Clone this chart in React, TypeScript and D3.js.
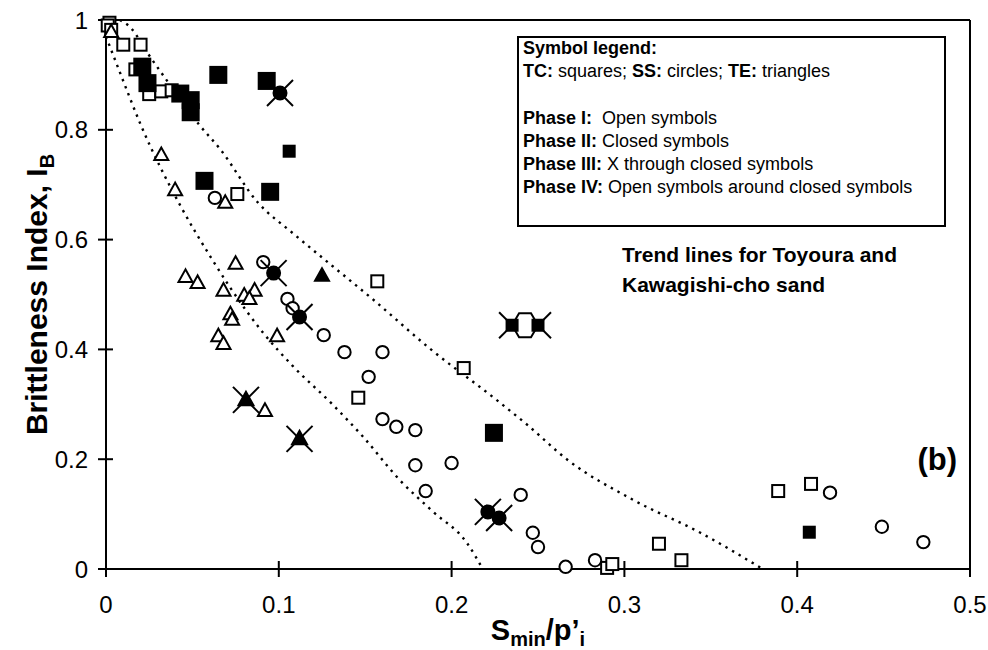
import React from "react";
import * as d3 from "d3";

// ---- data ----
const xTicks = [0, 0.1, 0.2, 0.3, 0.4, 0.5];
const xTickLabels = ["0", "0.1", "0.2", "0.3", "0.4", "0.5"];
const yTicks = [0, 0.2, 0.4, 0.6, 0.8, 1];
const yTickLabels = ["0", "0.2", "0.4", "0.6", "0.8", "1"];

// TC: squares
const tcPhase1: [number, number][] = [
  [0.002, 0.995], [0.001, 0.99], [0.003, 0.982], [0.01, 0.955], [0.02, 0.955],
  [0.017, 0.91], [0.025, 0.865], [0.032, 0.87], [0.038, 0.872], [0.076, 0.683],
  [0.157, 0.524], [0.146, 0.312], [0.207, 0.366], [0.29, 0.002], [0.293, 0.009],
  [0.32, 0.046], [0.333, 0.016], [0.389, 0.142], [0.408, 0.155],
];
const tcPhase2: [number, number][] = [
  [0.021, 0.915], [0.024, 0.885], [0.043, 0.866], [0.049, 0.854], [0.049, 0.832],
  [0.065, 0.9], [0.093, 0.889], [0.057, 0.707], [0.095, 0.687], [0.2245, 0.248],
];
const tcPhase2b: [number, number][] = [
  [0.106, 0.761], [0.407, 0.067],
];
const tcPhase4: [number, number][] = [
  [0.235, 0.444], [0.25, 0.444],
];

// SS: circles
const ssPhase1: [number, number][] = [
  [0.063, 0.676], [0.091, 0.559], [0.105, 0.492], [0.108, 0.475], [0.126, 0.426],
  [0.138, 0.395], [0.16, 0.395], [0.152, 0.35], [0.16, 0.273], [0.168, 0.259],
  [0.179, 0.253], [0.179, 0.189], [0.2, 0.193], [0.185, 0.142], [0.24, 0.135],
  [0.247, 0.066], [0.25, 0.04], [0.266, 0.004], [0.283, 0.016], [0.419, 0.139],
  [0.449, 0.077], [0.473, 0.049],
];
const ssPhase3: [number, number][] = [
  [0.1007, 0.867], [0.097, 0.539], [0.112, 0.459], [0.221, 0.104], [0.2275, 0.093],
];

// TE: triangles
const tePhase1: [number, number][] = [
  [0.003, 0.978], [0.032, 0.754], [0.04, 0.69], [0.069, 0.667], [0.075, 0.556],
  [0.046, 0.532], [0.053, 0.521], [0.068, 0.507], [0.08, 0.498], [0.086, 0.507],
  [0.083, 0.492], [0.072, 0.464], [0.073, 0.454], [0.065, 0.424], [0.068, 0.41],
  [0.099, 0.424], [0.092, 0.288],
];
const tePhase2: [number, number][] = [[0.125, 0.534]];
const tePhase3: [number, number][] = [[0.081, 0.308], [0.112, 0.237]];

// trend lines
const upperTrend: [number, number][] = [
  [0.008, 1.0], [0.014, 0.987], [0.024, 0.94], [0.037, 0.882], [0.054, 0.809],
  [0.066, 0.765], [0.088, 0.667], [0.108, 0.612], [0.131, 0.552], [0.153, 0.495],
  [0.188, 0.4], [0.226, 0.308], [0.244, 0.262], [0.267, 0.199], [0.305, 0.126],
  [0.344, 0.066], [0.38, 0.0],
];
const lowerTrend: [number, number][] = [
  [0.0, 0.97], [0.008, 0.905], [0.02, 0.81], [0.043, 0.662], [0.061, 0.566],
  [0.072, 0.512], [0.091, 0.43], [0.108, 0.37], [0.131, 0.3], [0.149, 0.24],
  [0.17, 0.162], [0.189, 0.105], [0.209, 0.047], [0.218, 0.0],
];

const FONT = "'Liberation Sans', Arial, Helvetica, sans-serif";

export default function App() {
  const W = 988, H = 650;
  const x = d3.scaleLinear().domain([0, 0.5]).range([106, 970]);
  const y = d3.scaleLinear().domain([0, 1]).range([569, 20]);
  const line = d3.line<[number, number]>()
    .x(d => x(d[0]))
    .y(d => y(d[1]))
    .curve(d3.curveMonotoneX);

  const sq = (p: [number, number], s: number, filled: boolean, key: string) => (
    <rect key={key} x={x(p[0]) - s / 2} y={y(p[1]) - s / 2} width={s} height={s}
      fill={filled ? "#000" : "#fff"} stroke="#000" strokeWidth={2} />
  );
  const circ = (p: [number, number], r: number, filled: boolean, key: string) => (
    <circle key={key} cx={x(p[0])} cy={y(p[1])} r={r}
      fill={filled ? "#000" : "#fff"} stroke="#000" strokeWidth={2} />
  );
  const tri = (p: [number, number], s: number, filled: boolean, key: string) => {
    const cx = x(p[0]), cy = y(p[1]);
    const h = s * 0.9;
    const pts = `${cx},${cy - h * 0.6} ${cx - s / 2},${cy + h * 0.4} ${cx + s / 2},${cy + h * 0.4}`;
    return <polygon key={key} points={pts} fill={filled ? "#000" : "#fff"} stroke="#000"
      strokeWidth={2} strokeLinejoin="miter" />;
  };
  const cross = (p: [number, number], a: number, key: string) => {
    const cx = x(p[0]), cy = y(p[1]);
    return (
      <g key={key} stroke="#000" strokeWidth={2}>
        <line x1={cx - a} y1={cy - a} x2={cx + a} y2={cy + a} />
        <line x1={cx - a} y1={cy + a} x2={cx + a} y2={cy - a} />
      </g>
    );
  };

  // phase IV pair: outer X arms + open hexagon joining them
  const p4L = tcPhase4[0], p4R = tcPhase4[1];
  const lx = x(p4L[0]), rx = x(p4R[0]), cy4 = y(p4L[1]);
  const hex = `${lx},${cy4} ${lx + 7},${cy4 - 12} ${rx - 7},${cy4 - 12} ${rx},${cy4} ${rx - 7},${cy4 + 12} ${lx + 7},${cy4 + 12}`;

  const legendLines: { b: string; n: string }[][] = [
    [{ b: "Symbol legend:", n: "" }],
    [{ b: "TC:", n: " squares; " }, { b: "SS:", n: " circles; " }, { b: "TE:", n: " triangles" }],
    [],
    [{ b: "Phase I:", n: "  Open symbols" }],
    [{ b: "Phase II:", n: " Closed symbols" }],
    [{ b: "Phase III:", n: " X through closed symbols" }],
    [{ b: "Phase IV:", n: " Open symbols around closed symbols" }],
  ];

  return (
    <svg width={W} height={H} style={{ position: "absolute", left: 0, top: 0, background: "#fff" }}
      fontFamily={FONT}>
      <rect x={0} y={0} width={W} height={H} fill="#fff" />

      {/* trend lines */}
      <path d={line(upperTrend) || ""} fill="none" stroke="#000" strokeWidth={2.4}
        strokeDasharray="2.4 5.2" />
      <path d={line(lowerTrend) || ""} fill="none" stroke="#000" strokeWidth={2.4}
        strokeDasharray="2.4 5.2" />

      {/* frame */}
      <line x1={x(0)} y1={y(1)} x2={x(0.5)} y2={y(1)} stroke="#000" strokeWidth={2} />
      <line x1={x(0.5)} y1={y(1)} x2={x(0.5)} y2={y(0) + 7} stroke="#000" strokeWidth={2} />
      <line x1={x(0)} y1={y(0)} x2={x(0.5)} y2={y(0)} stroke="#000" strokeWidth={2} />
      <line x1={x(0)} y1={y(1)} x2={x(0)} y2={y(0) + 8} stroke="#000" strokeWidth={2} />

      {/* ticks */}
      {yTicks.map((t, i) => (
        <g key={"yt" + i}>
          <line x1={x(0) - 8} x2={x(0) + 7} y1={y(t)} y2={y(t)} stroke="#000" strokeWidth={2} />
          <text x={88} y={y(t)} dy="0.36em" textAnchor="end" fontSize={24}>{yTickLabels[i]}</text>
        </g>
      ))}
      {xTicks.map((t, i) => (
        <g key={"xt" + i}>
          <line x1={x(t)} x2={x(t)} y1={y(0) - 8} y2={y(0) + 8} stroke="#000" strokeWidth={2} />
          <text x={x(t)} y={613} textAnchor="middle" fontSize={24}>{xTickLabels[i]}</text>
        </g>
      ))}

      {/* axis titles */}
      <text transform={`translate(47,${(y(0) + y(1)) / 2}) rotate(-90)`} textAnchor="middle"
        fontSize={30} fontWeight="bold">
        Brittleness Index, I<tspan fontSize={20} dy={7}>B</tspan>
      </text>
      <text x={x(0.25)} y={640} textAnchor="middle" fontSize={29} fontWeight="bold">
        S<tspan fontSize={20} dy={6}>min</tspan><tspan dy={-6}>/p’</tspan>
        <tspan fontSize={20} dy={6}>i</tspan>
      </text>

      {/* symbols */}
      {tcPhase1.map((p, i) => sq(p, 12, false, "t1" + i))}
      {ssPhase1.map((p, i) => circ(p, 6.2, false, "s1" + i))}
      {tePhase1.map((p, i) => tri(p, 14, false, "e1" + i))}
      {tcPhase2.map((p, i) => sq(p, 16, true, "t2" + i))}
      {tcPhase2b.map((p, i) => sq(p, 11, true, "t2b" + i))}
      {tePhase2.map((p, i) => tri(p, 14, true, "e2" + i))}
      {ssPhase3.map((p, i) => (
        <g key={"s3" + i}>{circ(p, 6.5, true, "c")}{cross(p, 13, "x")}</g>
      ))}
      {tePhase3.map((p, i) => (
        <g key={"e3" + i}>{tri(p, 15, true, "c")}{cross(p, 13, "x")}</g>
      ))}
      <g stroke="#000" strokeWidth={2}>
        <line x1={lx} y1={cy4} x2={lx - 13} y2={cy4 - 13} />
        <line x1={lx} y1={cy4} x2={lx - 13} y2={cy4 + 13} />
        <line x1={rx} y1={cy4} x2={rx + 13} y2={cy4 - 13} />
        <line x1={rx} y1={cy4} x2={rx + 13} y2={cy4 + 13} />
        <polygon points={hex} fill="none" />
      </g>
      {tcPhase4.map((p, i) => sq(p, 11, true, "t4" + i))}

      {/* legend */}
      <rect x={518} y={37} width={427} height={189} fill="#fff" stroke="#000" strokeWidth={2} />
      {legendLines.map((ln, i) => (
        <text key={"lg" + i} x={523} y={54 + i * 23.2} fontSize={18} style={{ whiteSpace: "pre" }}>
          {ln.map((seg, j) => (
            <React.Fragment key={j}>
              <tspan fontWeight="bold">{seg.b}</tspan>
              {seg.n ? <tspan>{seg.n}</tspan> : null}
            </React.Fragment>
          ))}
        </text>
      ))}

      {/* annotations */}
      <text x={622} y={262} fontSize={21} fontWeight="bold">Trend lines for Toyoura and</text>
      <text x={622} y={292} fontSize={21} fontWeight="bold">Kawagishi-cho sand</text>
      <text x={957} y={470} textAnchor="end" fontSize={31} fontWeight="bold">(b)</text>
    </svg>
  );
}
